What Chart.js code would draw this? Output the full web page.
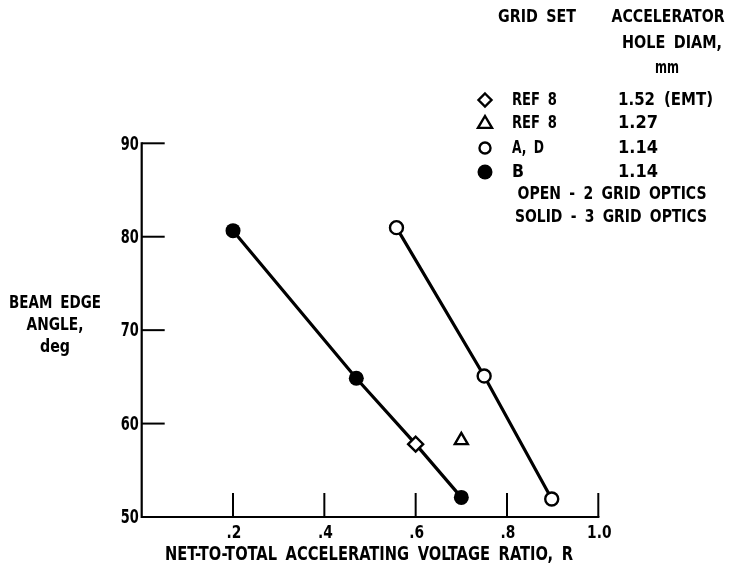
<!DOCTYPE html>
<html>
<head>
<meta charset="utf-8">
<script src="https://cdn.jsdelivr.net/npm/chart.js@4/dist/chart.umd.min.js"></script>
<style>
  html, body { margin: 0; padding: 0; background: #fff; }
  #wrap { width: 729px; height: 568px; }
</style>
</head>
<body>
<div id="wrap"><canvas id="c" width="729" height="568"></canvas></div>
<script>
// ---- data ----
const solidB_R      = [0.20, 0.47, 0.70];
const solidB_angle  = [80.65, 64.85, 52.1];
const openAD_R      = [0.558, 0.75, 0.898];
const openAD_angle  = [80.97, 65.1, 51.93];
const diamondRef8_R     = [0.60];
const diamondRef8_angle = [57.8];
const triangleRef8_R     = [0.70];
const triangleRef8_angle = [58.2];
// fitted line through solid points (passes through the diamond)
const solidLine_R     = [0.20, 0.47, 0.60, 0.70];
const solidLine_angle = [80.65, 64.85, 57.8, 52.1];

const xTickValues = [0, 0.2, 0.4, 0.6, 0.8, 1.0];
const xTickLabels = ['', '.2', '.4', '.6', '.8', '1.0'];
const yTickValues = [50, 60, 70, 80, 90];
const yTickLabels = ['50', '60', '70', '80', '90'];

const yTitleLines = ['BEAM EDGE', 'ANGLE,', 'deg'];
const xTitle = 'NET-TO-TOTAL ACCELERATING VOLTAGE RATIO, R';

const legendHeaders = ['GRID SET', 'ACCELERATOR', 'HOLE DIAM,', 'mm'];
const legendSymbols = ['diamond', 'triangle', 'openCircle', 'solidCircle'];
const legendGridSets = ['REF 8', 'REF 8', 'A, D', 'B'];
const legendHoleDiam = ['1.52 (EMT)', '1.27', '1.14', '1.14'];
const legendNotes = ['OPEN - 2 GRID OPTICS', 'SOLID - 3 GRID OPTICS'];

const FONT = '"DejaVu Sans Condensed", "Liberation Sans Narrow", sans-serif';

function pts(xs, ys) { return xs.map((x, i) => ({ x: x, y: ys[i] })); }

// draw text condensed so it is never wider than w
function txt(ctx, t, x, y, w) {
  if (w) ctx.fillText(t, x, y, w); else ctx.fillText(t, x, y);
}
function condensed(ctx, t, x, y, factor) {
  const w = ctx.measureText(t).width * factor;
  ctx.fillText(t, x, y, w);
}

const axesPlugin = {
  id: 'axesPlugin',
  beforeDatasetsDraw(chart) {
    const ctx = chart.ctx;
    const xs = chart.scales.x, ys = chart.scales.y;
    const x0 = xs.getPixelForValue(xTickValues[0]);
    const x1 = xs.getPixelForValue(xTickValues[xTickValues.length - 1]);
    const y0 = ys.getPixelForValue(yTickValues[0]);
    const y1 = ys.getPixelForValue(yTickValues[yTickValues.length - 1]);
    ctx.save();
    ctx.strokeStyle = '#000';
    ctx.lineWidth = 2.2;
    ctx.lineCap = 'square';
    ctx.beginPath();
    ctx.moveTo(x0, y1); ctx.lineTo(x0, y0); ctx.lineTo(x1, y0);
    ctx.stroke();
    ctx.lineWidth = 2;
    ctx.lineCap = 'butt';
    yTickValues.slice(1).forEach(v => {
      const y = ys.getPixelForValue(v);
      ctx.beginPath(); ctx.moveTo(x0, y); ctx.lineTo(x0 + 23, y); ctx.stroke();
    });
    xTickValues.slice(1).forEach(v => {
      const x = xs.getPixelForValue(v);
      ctx.beginPath(); ctx.moveTo(x, y0); ctx.lineTo(x, y0 - 24); ctx.stroke();
    });
    // tick labels
    ctx.fillStyle = '#000';
    ctx.textBaseline = 'middle';
    ctx.font = 'bold 20px ' + FONT;
    ctx.textAlign = 'right';
    yTickValues.forEach((v, i) => {
      condensed(ctx, yTickLabels[i], x0 - 3, ys.getPixelForValue(v) + 1, 0.72);
    });
    ctx.font = 'bold 18px ' + FONT;
    ctx.textAlign = 'center';
    xTickValues.forEach((v, i) => {
      if (!xTickLabels[i]) return;
      condensed(ctx, xTickLabels[i], xs.getPixelForValue(v) + 1, y0 + 16, 0.85);
    });
    ctx.restore();
  },
  afterDraw(chart) {
    const ctx = chart.ctx;
    ctx.save();
    ctx.fillStyle = '#000';
    ctx.font = 'bold 18px ' + FONT;
    ctx.wordSpacing = '4px';
    ctx.textBaseline = 'middle';
    // y title
    ctx.textAlign = 'center';
    const yc = [303, 325, 347];
    const yw = [92, 57, 30];
    yTitleLines.forEach((t, i) => txt(ctx, t, 55, yc[i], yw[i]));
    // x title
    ctx.font = 'bold 19px ' + FONT;
    txt(ctx, xTitle, 369, 555, 408);
    ctx.font = 'bold 18px ' + FONT;
    // legend headers
    txt(ctx, legendHeaders[0], 537, 17, 78);
    txt(ctx, legendHeaders[1], 668, 17, 113);
    txt(ctx, legendHeaders[2], 672, 43, 100);
    txt(ctx, legendHeaders[3], 667, 68, 24);
    // legend rows
    const rowY = [100, 123, 148, 172];
    const gw = [45, 45, 32, 12];
    const hw = [95, 45, 45, 45];
    ctx.textAlign = 'left';
    legendSymbols.forEach((s, i) => {
      const y = rowY[i];
      drawSymbol(ctx, s, 485, y);
      ctx.fillStyle = '#000';
      txt(ctx, legendGridSets[i], 512, y, gw[i]);
      txt(ctx, legendHoleDiam[i], 618, y, hw[i]);
    });
    ctx.textAlign = 'center';
    txt(ctx, legendNotes[0], 612, 194, 189);
    txt(ctx, legendNotes[1], 611, 217, 192);
    ctx.restore();
  }
};

function drawSymbol(ctx, s, x, y) {
  ctx.save();
  ctx.strokeStyle = '#000';
  ctx.fillStyle = '#fff';
  ctx.lineWidth = 2.4;
  ctx.beginPath();
  if (s === 'diamond') {
    const r = 6.5;
    ctx.moveTo(x, y - r); ctx.lineTo(x + r, y); ctx.lineTo(x, y + r); ctx.lineTo(x - r, y); ctx.closePath();
    ctx.fill(); ctx.stroke();
  } else if (s === 'triangle') {
    const r = 7;
    ctx.moveTo(x, y - r); ctx.lineTo(x + r, y + r * 0.7); ctx.lineTo(x - r, y + r * 0.7); ctx.closePath();
    ctx.fill(); ctx.stroke();
  } else if (s === 'openCircle') {
    ctx.arc(x, y, 5.5, 0, Math.PI * 2);
    ctx.fill(); ctx.stroke();
  } else {
    ctx.fillStyle = '#000';
    ctx.arc(x, y, 7.5, 0, Math.PI * 2);
    ctx.fill();
  }
  ctx.restore();
}

const markerBase = { showLine: false, borderColor: '#000', borderWidth: 2.4, pointBorderWidth: 2.4, order: 1 };

new Chart(document.getElementById('c'), {
  type: 'scatter',
  data: {
    datasets: [
      { label: 'solid line', data: pts(solidLine_R, solidLine_angle), showLine: true,
        borderColor: '#000', borderWidth: 3.2, pointRadius: 0, order: 10 },
      { label: 'open line', data: pts(openAD_R, openAD_angle), showLine: true,
        borderColor: '#000', borderWidth: 3.2, pointRadius: 0, order: 10 },
      Object.assign({}, markerBase, { label: 'B', data: pts(solidB_R, solidB_angle),
        pointStyle: 'circle', pointRadius: 7.5, backgroundColor: '#000', pointBorderWidth: 0 }),
      Object.assign({}, markerBase, { label: 'A, D', data: pts(openAD_R, openAD_angle),
        pointStyle: 'circle', pointRadius: 6.5, backgroundColor: '#fff' }),
      Object.assign({}, markerBase, { label: 'REF 8 (1.52)', data: pts(diamondRef8_R, diamondRef8_angle),
        pointStyle: 'rectRot', pointRadius: 7.5, backgroundColor: '#fff' }),
      Object.assign({}, markerBase, { label: 'REF 8 (1.27)', data: pts(triangleRef8_R, triangleRef8_angle),
        pointStyle: 'triangle', pointRadius: 7.5, backgroundColor: '#fff' })
    ]
  },
  options: {
    responsive: false,
    animation: false,
    devicePixelRatio: 1,
    layout: { padding: { left: 0, right: 130.7, top: 143.3, bottom: 0 } },
    plugins: { legend: { display: false }, tooltip: { enabled: false } },
    elements: { line: { tension: 0 } },
    scales: {
      x: {
        type: 'linear', min: 0, max: 1.0,
        afterFit(scale) { scale.height = 51; },
        afterBuildTicks(scale) { scale.ticks = xTickValues.map(v => ({ value: v })); },
        grid: { display: false, drawTicks: false },
        border: { display: false },
        ticks: { display: false }
      },
      y: {
        type: 'linear', min: 50, max: 90,
        afterFit(scale) { scale.width = 141.7; },
        afterBuildTicks(scale) { scale.ticks = yTickValues.map(v => ({ value: v })); },
        grid: { display: false, drawTicks: false },
        border: { display: false },
        ticks: { display: false }
      }
    }
  },
  plugins: [axesPlugin]
});
</script>
</body>
</html>
